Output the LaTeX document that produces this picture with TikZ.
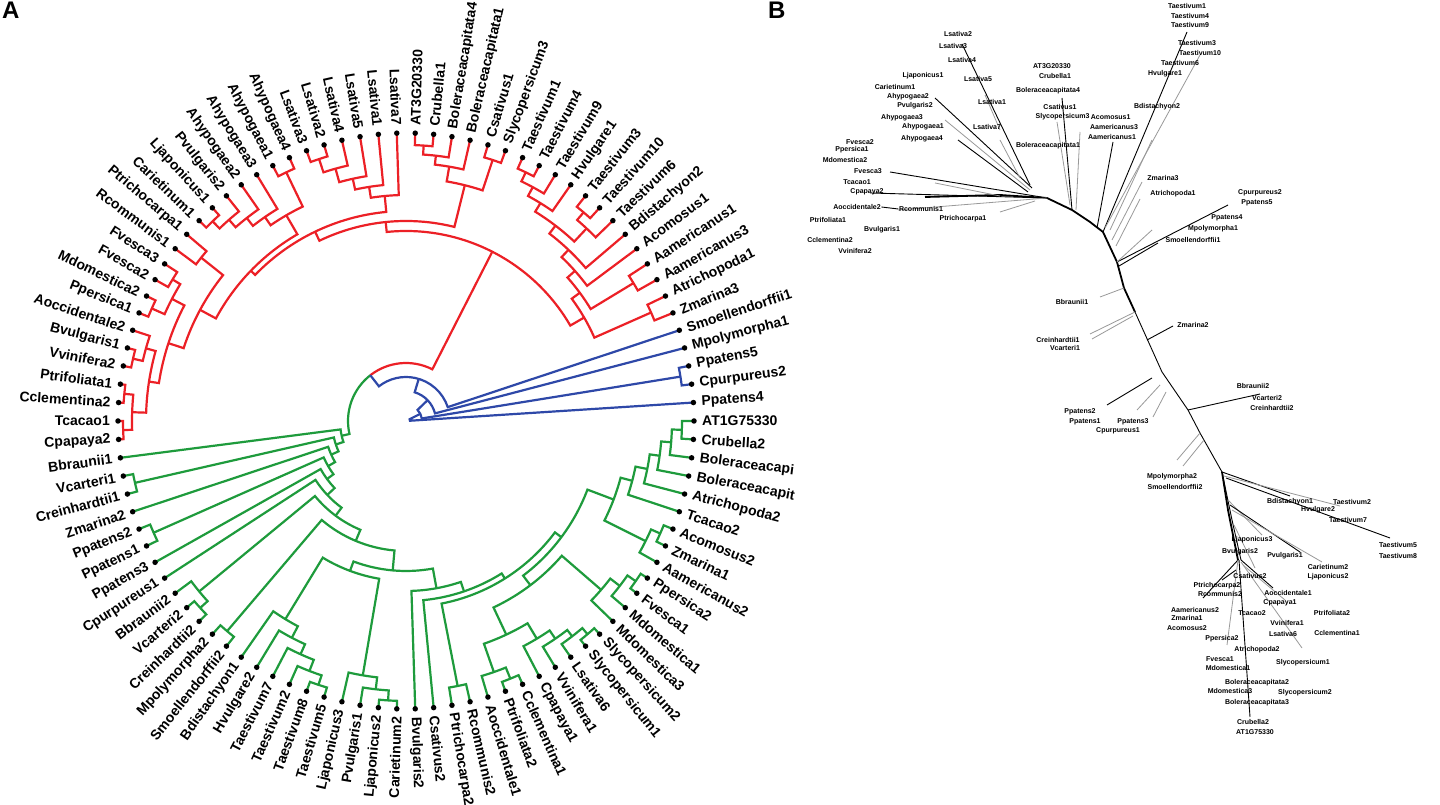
\documentclass[tikz,border=0pt]{standalone}
\usepackage{fontspec}
\setmainfont{Liberation Sans}
\usetikzlibrary{positioning}
\definecolor{tred}{RGB}{236,32,38}
\definecolor{tgreen}{RGB}{30,155,60}
\definecolor{tblue}{RGB}{46,72,168}
\tikzset{
    leafdot/.style = {circle, fill=black, inner sep=0pt, minimum size=5.5pt},
    leaflab/.style = {font=\fontsize{14}{15}\selectfont\bfseries, inner sep=0pt},
    rbr/.style = {draw=tred, line width=2.2pt},
    gbr/.style = {draw=tgreen, line width=2.2pt},
    bbr/.style = {draw=tblue, line width=2.2pt},
    ubone/.style = {draw=black, line width=1.8pt},
    utree/.style = {draw=black, line width=0.9pt},
    ugrey/.style = {draw=black!40, line width=0.8pt},
    ulab/.style = {font=\fontsize{7}{8}\selectfont\bfseries, inner sep=0.5pt},
    panel/.style = {font=\fontsize{24}{26}\selectfont\bfseries, inner sep=0pt},
}
\newcommand{\dA}{3.6735}
% arc joining two children: \clade{i1}{r1}{i2}{r2}{r}
\newcommand{\clade}[5]{({#1*\dA}:#2) -- ({#1*\dA}:#5) arc[start angle={#1*\dA}, end angle={#3*\dA}, radius=#5] -- ({#3*\dA}:#4)}

\begin{document}
\begin{tikzpicture}[x=1pt, y=1pt, line cap=butt, line join=miter]
\useasboundingbox[fill=white] (0,0) rectangle (1440,805);

\node[panel, anchor=north west] (pA) at (2,803) {A};
\node[panel, anchor=north west] (pB) at (768,803) {B};

%% panel A: circular tree
\begin{scope}[shift={(406,384)}]
  % red clade
  \draw[rbr] \clade{18}{288}{17}{288}{276};
  \draw[rbr] \clade{17.5}{276}{16}{288}{266};
  \draw[rbr] \clade{16.75}{266}{15}{288}{256};
  \draw[rbr] \clade{14}{288}{13}{288}{274};
  \draw[rbr] \clade{13.5}{274}{12}{288}{264};
  \draw[rbr] \clade{15.875}{256}{12.75}{264}{246};
  \draw[rbr] \clade{14.3125}{246}{11}{288}{236};
  \draw[rbr] \clade{12.65625}{236}{10}{288}{226};
  \draw[rbr] \clade{9}{288}{8}{288}{266};
  \draw[rbr] \clade{11.328}{226}{8.5}{266}{216};
  \draw[rbr] \clade{7}{288}{6}{288}{268};
  \draw[rbr] \clade{9.914}{216}{6.5}{268}{206};
  \draw[rbr] \clade{24}{288}{23}{288}{276};
  \draw[rbr] \clade{23.5}{276}{22}{288}{267};
  \draw[rbr] \clade{22.75}{267}{21}{288}{258};
  \draw[rbr] \clade{20}{288}{19}{288}{275};
  \draw[rbr] \clade{21.875}{258}{19.5}{275}{243};
  \draw[rbr] \clade{30}{288}{29}{288}{276};
  \draw[rbr] \clade{29.5}{276}{28}{288}{262};
  \draw[rbr] \clade{28.75}{262}{27}{288}{248};
  \draw[rbr] \clade{27.875}{248}{26}{288}{237};
  \draw[rbr] \clade{26.9375}{237}{25}{288}{226};
  \draw[rbr] \clade{31}{288}{32}{288}{276};
  \draw[rbr] \clade{37}{288}{36}{288}{278};
  \draw[rbr] \clade{36.5}{278}{35}{288}{268};
  \draw[rbr] \clade{35.75}{268}{34}{288}{258};
  \draw[rbr] \clade{34.875}{258}{33}{288}{248};
  \draw[rbr] \clade{33.9375}{248}{31.5}{276}{238};
  \draw[rbr] \clade{38}{288}{39}{288}{262};
  \draw[rbr] \clade{40}{288}{41}{288}{273};
  \draw[rbr] \clade{42}{288}{43}{288}{278};
  \draw[rbr] \clade{40.5}{273}{42.5}{278}{264};
  \draw[rbr] \clade{45}{288}{46}{288}{280};
  \draw[rbr] \clade{44}{288}{45.5}{280}{270};
  \draw[rbr] \clade{47}{288}{48}{288}{283};
  \draw[rbr] \clade{49}{288}{50}{288}{283};
  \draw[rbr] \clade{47.5}{283}{49.5}{283}{274};
  \draw[rbr] \clade{44.75}{270}{48.5}{274}{260};
  \draw[rbr] \clade{41.5}{264}{46.625}{260}{250};
  \draw[rbr] \clade{38.5}{262}{44.0625}{250}{234};
  \draw[rbr] \clade{32.719}{238}{41.281}{234}{216};
  \draw[rbr] \clade{25.969}{226}{37.0}{216}{210};
  \draw[rbr] \clade{20.688}{243}{31.484}{210}{200};
  \draw[rbr] \clade{8.207}{206}{26.086}{200}{190};
  % green clade
  \draw[gbr] \clade{68}{288}{69}{288}{278};
  \draw[gbr] \clade{68.5}{278}{67}{288}{268};
  \draw[gbr] \clade{67.75}{268}{66}{288}{256};
  \draw[gbr] \clade{66.875}{256}{65}{288}{245};
  \draw[gbr] \clade{65.9375}{245}{64}{288}{232};
  \draw[gbr] \clade{72}{288}{73}{288}{280};
  \draw[gbr] \clade{71}{288}{72.5}{280}{270};
  \draw[gbr] \clade{70}{288}{71.75}{270}{258};
  \draw[gbr] \clade{64.969}{232}{70.875}{258}{160};
  \draw[gbr] \clade{84}{288}{85}{288}{280};
  \draw[gbr] \clade{83}{288}{84.5}{280}{272};
  \draw[gbr] \clade{82}{288}{83.75}{272}{264};
  \draw[gbr] \clade{81}{288}{82.875}{264}{254};
  \draw[gbr] \clade{79}{288}{80}{288}{278};
  \draw[gbr] \clade{78}{288}{79.5}{278}{266};
  \draw[gbr] \clade{78.75}{266}{81.9375}{254}{236};
  \draw[gbr] \clade{89}{288}{88}{288}{280};
  \draw[gbr] \clade{88.5}{280}{87}{288}{270};
  \draw[gbr] \clade{87.75}{270}{86}{288}{258};
  \draw[gbr] \clade{80.344}{236}{86.875}{258}{206};
  \draw[gbr] \clade{92}{288}{91}{288}{278};
  \draw[gbr] \clade{91.5}{278}{90}{288}{268};
  \draw[gbr] \clade{98}{288}{97}{288}{276};
  \draw[gbr] \clade{97.5}{276}{96}{288}{266};
  \draw[gbr] \clade{96.75}{266}{95}{288}{256};
  \draw[gbr] \clade{95.875}{256}{94}{288}{246};
  \draw[gbr] \clade{94.9375}{246}{93}{288}{234};
  \draw[gbr] \clade{93.969}{234}{90.75}{268}{222};
  \draw[gbr] \clade{83.609}{206}{92.359}{222}{194};
  \draw[gbr] \clade{76}{288}{77}{288}{270};
  \draw[gbr] \clade{76.5}{270}{87.984}{194}{186};
  \draw[gbr] \clade{75}{288}{82.242}{186}{180};
  \draw[gbr] \clade{74}{288}{78.621}{180}{170};
  \draw[gbr] \clade{67.922}{160}{76.311}{170}{150};
  \draw[gbr] \clade{62}{288}{63}{288}{276};
  \draw[gbr] \clade{62.5}{276}{72.116}{150}{130};
  \draw[gbr] \clade{60}{288}{61}{288}{278};
  \draw[gbr] \clade{59}{288}{60.5}{278}{268};
  \draw[gbr] \clade{59.75}{268}{67.308}{130}{118};
  \draw[gbr] \clade{58}{288}{63.529}{118}{108};
  \draw[gbr] \clade{57}{288}{60.765}{108}{98};
  \draw[gbr] \clade{55}{288}{56}{288}{276};
  \draw[gbr] \clade{55.5}{276}{58.882}{98}{90};
  \draw[gbr] \clade{54}{288}{57.191}{90}{82};
  \draw[gbr] \clade{52}{288}{53}{288}{278};
  \draw[gbr] \clade{52.5}{278}{55.596}{82}{74};
  \draw[gbr] \clade{51}{288}{54.048}{74}{66};
  % root of red + green
  \draw[rbr] ({17.147*\dA}:190) -- ({17.147*\dA}:58) arc[start angle={17.147*\dA}, end angle={34.836*\dA}, radius=58];
  \draw[gbr] ({34.836*\dA}:58) arc[start angle={34.836*\dA}, end angle={52.524*\dA}, radius=58] -- ({52.524*\dA}:66);
  % blue clade
  \draw[bbr] \clade{5}{288}{34.836}{58}{44};
  \draw[bbr] \clade{4}{288}{19.918}{44}{30};
  \draw[bbr] \clade{2}{288}{3}{288}{278};
  \draw[bbr] \clade{2.5}{278}{11.959}{30}{16};
  \draw[bbr] \clade{1}{288}{7.23}{16}{4};

  % leaves, right half
  \foreach \i/\nm in {1/Ppatens4, 2/Cpurpureus2, 3/Ppatens5, 4/Mpolymorpha1, 5/Smoellendorffii1,
      6/Zmarina3, 7/Atrichopoda1, 8/Aamericanus3, 9/Aamericanus1, 10/Acomosus1, 11/Bdistachyon2,
      12/Taestivum6, 13/Taestivum10, 14/Taestivum3, 15/Hvulgare1, 16/Taestivum9, 17/Taestivum4,
      18/Taestivum1, 19/Slycopersicum3, 20/Csativus1, 21/Boleraceacapitata1, 22/Boleraceacapitata4,
      23/Crubella1, 24/AT3G20330, 74/Bvulgaris2, 75/Csativus2, 76/Ptrichocarpa2, 77/Rcommunis2,
      78/Aoccidentale1, 79/Ptrifoliata2, 80/Cclementina1, 81/Cpapaya1, 82/Vvinifera1, 83/Lsativa6,
      84/Slycopersicum1, 85/Slycopersicum2, 86/Mdomestica3, 87/Mdomestica1, 88/Fvesca1, 89/Ppersica2,
      90/Aamericanus2, 91/Zmarina1, 92/Acomosus2, 93/Tcacao2, 94/Atrichopoda2, 95/Boleraceacapit,
      96/Boleraceacapi, 97/Crubella2, 98/AT1G75330}{
    \pgfmathsetmacro\ang{\i*\dA}
    \node[leafdot] (L\i) at (\ang:288) {};
    \node[leaflab, anchor=west, rotate=\ang] (T\i) at (\ang:296) {\nm};
  }
  % leaves, left half
  \foreach \i/\nm in {25/Lsativa7, 26/Lsativa1, 27/Lsativa5, 28/Lsativa4, 29/Lsativa2, 30/Lsativa3,
      31/Ahypogaea4, 32/Ahypogaea1, 33/Ahypogaea3, 34/Ahypogaea2, 35/Pvulgaris2, 36/Ljaponicus1,
      37/Carietinum1, 38/Ptrichocarpa1, 39/Rcommunis1, 40/Fvesca3, 41/Fvesca2, 42/Mdomestica2,
      43/Ppersica1, 44/Aoccidentale2, 45/Bvulgaris1, 46/Vvinifera2, 47/Ptrifoliata1, 48/Cclementina2,
      49/Tcacao1, 50/Cpapaya2, 51/Bbraunii1, 52/Vcarteri1, 53/Creinhardtii1, 54/Zmarina2, 55/Ppatens2,
      56/Ppatens1, 57/Ppatens3, 58/Cpurpureus1, 59/Bbraunii2, 60/Vcarteri2, 61/Creinhardtii2,
      62/Mpolymorpha2, 63/Smoellendorffii2, 64/Bdistachyon1, 65/Hvulgare2, 66/Taestivum7,
      67/Taestivum2, 68/Taestivum8, 69/Taestivum5, 70/Ljaponicus3, 71/Pvulgaris1, 72/Ljaponicus2,
      73/Carietinum2}{
    \pgfmathsetmacro\ang{\i*\dA}
    \node[leafdot] (L\i) at (\ang:288) {};
    \node[leaflab, anchor=east, rotate=\ang-180] (T\i) at (\ang:296) {\nm};
  }
\end{scope}

%% panel B: unrooted tree (pixel coordinates, y down)
\begin{scope}[yshift=805, yscale=-1]
  \coordinate (hubL) at (1047,198);
  \coordinate (hubT) at (1072,210);
  \coordinate (hubM) at (1103,232);
  \coordinate (hubB) at (1117,262);
  \coordinate (hubC) at (1135,312);
  \coordinate (hubD) at (1162,372);
  \coordinate (hubE) at (1188,410);
  \coordinate (hubF) at (1200,433);
  \coordinate (hubG) at (1222,472);
  \coordinate (hubH) at (1238,560);
  % backbone
  \draw[ubone] (hubL) -- (hubT) -- (1090,222) -- (hubM) -- (hubB) -- (1124,288) -- (hubC);
  \draw[utree] (hubC) -- (hubD) -- (hubE) -- (hubF) -- (hubG);
  \draw[ubone] (hubG) -- (1228,510) -- (hubH);
  \draw[utree] (hubG) -- (1232,520) -- (1241,560);
  % lettuce, legumes, rosids
  \draw[utree] (1030,185) -- (962,44);
  \draw[ugrey] (1000,130) -- (985,95);
  \draw[utree] (1032,188) -- (935,98);
  \draw[ugrey] (1030,190) -- (945,120);
  \draw[utree] (1028,192) -- (958,140);
  \draw[ugrey] (1020,178) -- (1000,140);
  \draw[ubone] (hubL) -- (1000,195) -- (925,197);
  \draw[utree] (hubL) -- (890,172);
  \draw[utree] (hubL) -- (870,193);
  \draw[ugrey] (1000,196) -- (935,183);
  \draw[ugrey] (hubL) -- (898,210);
  \draw[ugrey] (1035,201) -- (1000,212);
  % brassica, monocots
  \draw[utree] (hubT) -- (1062,98);
  \draw[ugrey] (1070,205) -- (1057,122);
  \draw[ugrey] (1076,210) -- (1080,132);
  \draw[utree] (hubM) -- (1187,32);
  \draw[ugrey] (1105,228) -- (1200,55);
  \draw[ugrey] (1110,230) -- (1152,140);
  \draw[utree] (1097,228) -- (1113,142);
  \draw[ugrey] (1112,240) -- (1142,182);
  \draw[ugrey] (1116,246) -- (1140,199);
  % mosses, algae
  \draw[utree] (hubB) -- (1228,205);
  \draw[ugrey] (hubB) -- (1152,230);
  \draw[utree] (1119,266) -- (1158,243);
  \draw[ugrey] (1124,288) -- (1100,297);
  \draw[ugrey] (hubC) -- (1090,334);
  \draw[ugrey] (1133,316) -- (1092,339);
  \draw[utree] (1147,340) -- (1173,326);
  \draw[utree] (1152,378) -- (1107,405);
  \draw[ugrey] (1160,385) -- (1137,410);
  \draw[ugrey] (1166,392) -- (1153,417);
  \draw[utree] (hubE) -- (1260,394);
  \draw[ugrey] (hubF) -- (1177,460);
  \draw[ugrey] (1204,440) -- (1183,466);
  % seed plants, lower cluster
  \draw[utree] (hubG) -- (1290,496);
  \draw[utree] (1226,478) -- (1390,538);
  \draw[ugrey] (1224,476) -- (1340,506);
  \draw[ugrey] (1228,500) -- (1262,535);
  \draw[utree] (1230,505) -- (1300,552);
  \draw[ugrey] (1232,510) -- (1322,562);
  \draw[ugrey] (1234,525) -- (1255,568);
  \draw[utree] (hubH) -- (1203,598);
  \draw[utree] (1236,570) -- (1222,580);
  \draw[ugrey] (hubH) -- (1227,645);
  \draw[utree] (1239,560) -- (1250,717);
  \draw[utree] (1241,560) -- (1273,588);
  \draw[ugrey] (1241,562) -- (1302,648);
  \draw[ugrey] (1243,565) -- (1285,600);

  \foreach \x/\y/\nm [count=\k] in {958/34/Lsativa2, 953/46/Lsativa3, 962/60/Lsativa4, 978/79/Lsativa5,
      992/102/Lsativa1, 987/127/Lsativa7, 923/76/Ljaponicus1, 895/87/Carietinum1, 908/97/Ahypogaea2,
      915/106/Pvulgaris2, 902/118/Ahypogaea3, 923/127/Ahypogaea1, 922/139/Ahypogaea4,
      1052/66/AT3G20330, 1055/76/Crubella1, 1048/91/Boleraceacapitata4, 1060/107/Csativus1,
      1048/146/Boleraceacapitata1, 860/142/Fvesca2, 852/150/Ppersica1, 845/160/Mdomestica2,
      868/171/Fvesca3, 857/182/Tcacao1, 867/192/Cpapaya2, 857/207/Aoccidentale2, 921/209/Rcommunis1,
      963/219/Ptrichocarpa1, 828/220/Ptrifoliata1, 882/230/Bvulgaris1, 830/240/Cclementina2,
      855/251/Vvinifera2, 1187/6/Taestivum1, 1190/16/Taestivum4, 1190/25/Taestivum9,
      1197/43/Taestivum3, 1200/53/Taestivum10, 1180/63/Taestivum6, 1165/74/Hvulgare1,
      1157/107/Bdistachyon2, 1114/127/Aamericanus3, 1112/137/Aamericanus1, 1163/178/Zmarina3,
      1173/194/Atrichopoda1, 1260/193/Cpurpureus2, 1257/203/Ppatens5, 1227/218/Ppatens4,
      1213/229/Mpolymorpha1, 1193/240/Smoellendorffii1, 1072/302/Bbraunii1, 1193/325/Zmarina2,
      1058/340/Creinhardtii1, 1065/348/Vcarteri1, 1253/386/Bbraunii2, 1267/398/Vcarteri2,
      1272/408/Creinhardtii2, 1080/412/Ppatens2, 1085/422/Ppatens1, 1133/422/Ppatens3,
      1118/431/Cpurpureus1, 1172/477/Mpolymorpha2, 1175/487/Smoellendorffii2,
      1290/502/Bdistachyon1, 1352/502/Taestivum2, 1318/510/Hvulgare2, 1348/520/Taestivum7,
      1398/545/Taestivum5, 1398/556/Taestivum8, 1252/540/Ljaponicus3, 1240/552/Bvulgaris2,
      1285/556/Pvulgaris1, 1328/567/Carietinum2, 1328/577/Ljaponicus2, 1250/576/Csativus2,
      1217/586/Ptrichocarpa2, 1220/594/Rcommunis2, 1288/593/Aoccidentale1, 1280/603/Cpapaya1,
      1195/610/Aamericanus2, 1252/613/Tcacao2, 1332/613/Ptrifoliata2, 1187/618/Zmarina1,
      1287/623/Vvinifera1, 1187/628/Acomosus2, 1283/634/Lsativa6, 1337/633/Cclementina1,
      1222/639/Ppersica2, 1257/650/Atrichopoda2, 1220/659/Fvesca1, 1228/668/Mdomestica1,
      1303/663/Slycopersicum1, 1257/683/Boleraceacapitata2, 1230/691/Mdomestica3,
      1305/693/Slycopersicum2, 1257/703/Boleraceacapitata3, 1253/722/Crubella2, 1255/732/AT1G75330}{
    \node[ulab] (u\k) at (\x,\y) {\nm};
  }
  \node[ulab, anchor=west] (uSly3) at (1035,117) {Slycopersicum3};
  \node[ulab, anchor=west] (uAco1) at (uSly3.east) {Acomosus1};
  \draw[utree] (u25.east) -- (u26.west);
\end{scope}
\end{tikzpicture}
\end{document}
